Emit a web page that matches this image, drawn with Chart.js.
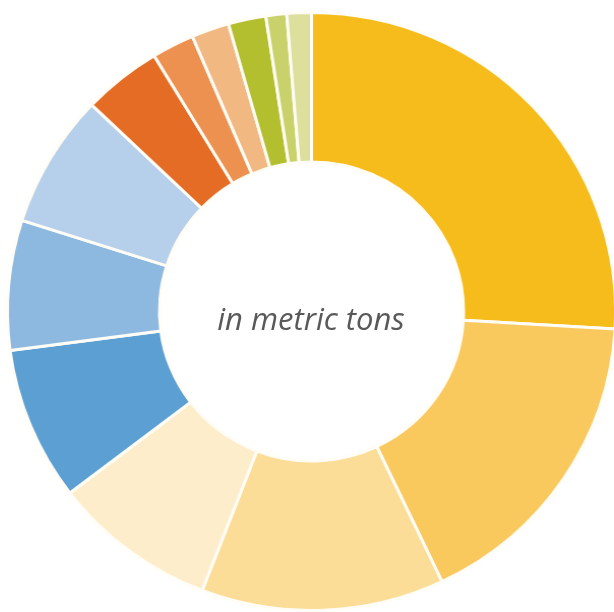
<!DOCTYPE html>
<html>
<head>
<meta charset="utf-8">
<script src="https://cdn.jsdelivr.net/npm/chart.js@4"></script>
<style>
  html, body { margin: 0; padding: 0; background: #fff; overflow: hidden; }
  .wrap { position: relative; width: 614px; height: 612px; overflow: hidden; }
  #donutChart { transform-origin: 311.5px 311.5px; transform: scaleX(1.017); }
  .center-label {
    position: absolute; left: 170px; top: 298px; width: 282px;
    text-align: center; font-family: "Open Sans", sans-serif; font-style: italic;
    font-size: 31px; color: #595959; line-height: 40px;
  }
</style>
</head>
<body>
<div class="wrap">
  <canvas id="donutChart" width="614" height="612"></canvas>
  <div class="center-label">in metric tons</div>
</div>
<script>
// Slice data (clockwise from 12 o'clock)
const categories = ['A', 'B', 'C', 'D', 'E', 'F', 'G', 'H', 'I', 'J', 'K', 'L', 'M'];
const tonnage = [25.9, 17.0, 12.9, 8.75, 8.3, 7.0, 7.2, 4.2, 2.25, 2.0, 2.0, 1.1, 1.3];
const sliceColors = [
    '#F6BC1C', '#F9C95E', '#FCDD97', '#FEEDCB',
    '#5B9FD3', '#8DB9E0', '#B6CFEA',
    '#E46C24', '#EC9150', '#F1B882',
    '#B4BF2F', '#C9D26A', '#DCE09C'
];

function initializeDonutChart() {
    const canvas = document.getElementById('donutChart');
    if (!canvas) {
        console.error('Chart canvas not found');
        return;
    }
    const ctx = canvas.getContext('2d');
    return new Chart(ctx, {
        type: 'doughnut',
        data: {
            labels: categories,
            datasets: [{
                data: tonnage,
                backgroundColor: sliceColors,
                borderColor: '#FFFDF6',
                borderWidth: 3,
                hoverOffset: 0
            }]
        },
        options: {
            responsive: false,
            animation: false,
            cutout: '50%',
            layout: {
                padding: { left: 11, right: 2, top: 11, bottom: 0 }
            },
            plugins: {
                legend: { display: false },
                tooltip: { enabled: false }
            }
        }
    });
}

initializeDonutChart();
</script>
</body>
</html>
